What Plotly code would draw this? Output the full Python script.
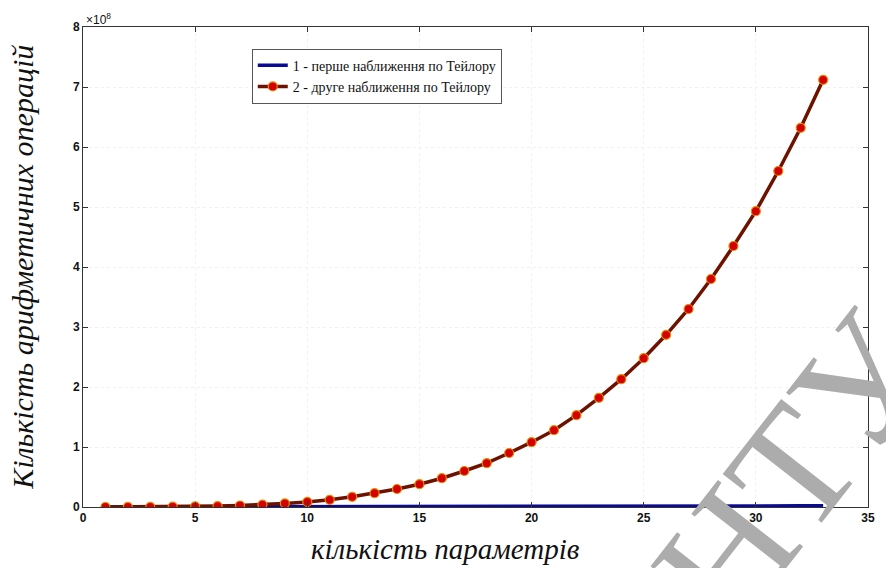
import plotly.graph_objects as go

# number of parameters
n_params = list(range(1, 34))

# series values in units of 1e8 operations
taylor1 = [0.0000, 0.0001, 0.0001, 0.0002, 0.0003, 0.0004, 0.0006, 0.0008, 0.0010,
           0.0013, 0.0016, 0.0020, 0.0024, 0.0028, 0.0033, 0.0038, 0.0044, 0.0050,
           0.0057, 0.0064, 0.0072, 0.0080, 0.0089, 0.0098, 0.0108, 0.0118, 0.0129,
           0.0140, 0.0152, 0.0165, 0.0178, 0.0191, 0.0205]
taylor2 = [0.0003, 0.001, 0.002, 0.005, 0.009, 0.015, 0.025, 0.04, 0.06,
           0.085, 0.12, 0.17, 0.23, 0.30, 0.38, 0.48, 0.60, 0.73,
           0.90, 1.08, 1.28, 1.53, 1.82, 2.13, 2.48, 2.87, 3.30,
           3.80, 4.35, 4.93, 5.60, 6.32, 7.12]

x_ticks = [0, 5, 10, 15, 20, 25, 30, 35]
y_ticks = [0, 1, 2, 3, 4, 5, 6, 7, 8]

name1 = "1 - перше наближення по Тейлору"
name2 = "2 - друге наближення по Тейлору"

fig = go.Figure()
fig.add_trace(go.Scatter(
    x=n_params, y=taylor1, mode="lines", name=name1,
    line=dict(color="#0a0a96", width=3.5),
))
fig.add_trace(go.Scatter(
    x=n_params, y=taylor2, mode="lines+markers", name=name2,
    line=dict(color="#6e1200", width=3.5),
    marker=dict(color="#d40000", size=9, line=dict(color="#e88a00", width=1.2)),
))

axis_common = dict(
    showline=True, linecolor="#333333", linewidth=1, mirror="ticks",
    ticks="inside", ticklen=5, tickcolor="#333333",
    showgrid=True, gridcolor="#f0f0f0", griddash="dot", gridwidth=1,
    zeroline=False,
    tickfont=dict(family="Liberation Sans, Arial", size=12, color="#111111", weight="bold"),
)

fig.update_xaxes(range=[0, 35], tickvals=x_ticks, ticktext=[str(v) for v in x_ticks], **axis_common)
fig.update_yaxes(range=[0, 8], tickvals=y_ticks, ticktext=[str(v) for v in y_ticks], **axis_common)

serif = "Liberation Serif, Times New Roman"

# watermark (drawn first so other texts stay on top)
fig.add_annotation(x=0.86, y=-0.0125, xref="paper", yref="paper",
                   text="ВНТУ", showarrow=False, textangle=-52,
                   xanchor="center", yanchor="middle",
                   font=dict(family=serif, size=165, color="rgb(172,172,172)"))

# axis titles
fig.add_annotation(x=0.462, y=-0.0875, xref="paper", yref="paper", text="<i>кількість параметрів</i>",
                   showarrow=False, xanchor="center", yanchor="middle",
                   font=dict(family=serif, size=29, color="#111"))
fig.add_annotation(x=-0.078, y=0.5, xref="paper", yref="paper", text="<i>Кількість арифметичних операцій</i>",
                   showarrow=False, xanchor="center", yanchor="middle", textangle=-90,
                   font=dict(family=serif, size=30, color="#111"))

fig.add_annotation(x=0, y=1, xref="paper", yref="paper", xanchor="left", yanchor="bottom",
                   text="×10<sup>8</sup>", showarrow=False, xshift=1, yshift=-2,
                   font=dict(family="Liberation Sans, Arial", size=12, color="#111"))

fig.update_layout(
    width=886, height=568,
    margin=dict(l=83, r=11, t=27, b=61),
    paper_bgcolor="white", plot_bgcolor="white",
    showlegend=True,
    legend=dict(x=0.215, y=0.955, xanchor="left", yanchor="top",
                bordercolor="#555555", borderwidth=1, bgcolor="white",
                font=dict(family=serif, size=14, color="#111"),
                tracegroupgap=0, itemwidth=30),
)

fig.write_html("out.html")
